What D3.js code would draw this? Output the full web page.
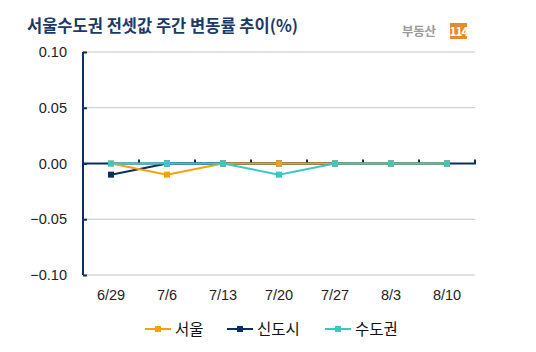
<!DOCTYPE html>
<html><head><meta charset="utf-8">
<script src="https://cdn.jsdelivr.net/npm/d3@7"></script>
<style>
body{margin:0;background:#fff;}
svg{display:block;font-family:"Noto Sans CJK KR","DejaVu Sans",sans-serif;}
</style></head><body>
<svg id="c" width="536" height="352"></svg>
<script>
const categories = ["6/29","7/6","7/13","7/20","7/27","8/3","8/10"];
const seoul = [0, -0.01, 0, 0, 0, 0, 0];
const newTown = [-0.01, 0, 0, 0, 0, 0, 0];
const capital = [0, 0, 0, -0.01, 0, 0, 0];
const yTicks = [0.10, 0.05, 0.00, -0.05, -0.10];
const seriesNames = ["서울","신도시","수도권"];
const colors = ["#F5A20A","#0B2F5E","#3CC6C8"];

const svg = d3.select("#c");
const x = d3.scaleBand().domain(categories).range([83, 475]);
const y = d3.scaleLinear().domain([-0.10, 0.10]).range([275, 52]);

// title
svg.append("text").attr("x", 27).attr("y", 32).attr("font-size", 16.5).attr("font-weight", "bold")
  .attr("fill", "#1B3A66").text("서울수도권 전셋값 주간 변동률 추이(%)");
// logo
svg.append("text").attr("x", 402).attr("y", 36).attr("font-size", 12.5).attr("font-weight","bold")
  .attr("fill", "#9a9a9a").attr("letter-spacing", -0.3).text("부동산");
svg.append("rect").attr("x", 450).attr("y", 23).attr("width", 17).attr("height", 16).attr("fill", "#E8892E");
svg.append("text").attr("x", 458.5).attr("y", 36).attr("font-size", 12).attr("font-weight","bold")
  .attr("text-anchor","middle").attr("fill", "#fff").attr("letter-spacing", -1).text("114");

// grid
svg.append("g").selectAll("line").data(yTicks.filter(d => d !== 0)).join("line")
  .attr("x1", 83).attr("x2", 475).attr("y1", d => y(d)).attr("y2", d => y(d))
  .attr("stroke", "#C4C4C4").attr("stroke-width", 1);

// y axis
const yAxis = d3.axisLeft(y).tickValues(yTicks).tickSize(4).tickFormat(d3.format(".2f"));
const ya = svg.append("g").attr("transform", "translate(83,0)").call(yAxis);
ya.select(".domain").attr("stroke", "#0B2F5E").attr("stroke-width", 2).attr("d", "M0,52V275");
ya.selectAll(".tick line").attr("stroke", "#0B2F5E").attr("stroke-width", 2).attr("x1", 0).attr("x2", 4);
ya.selectAll(".tick text").attr("x", -16).attr("font-size", 14.5).attr("fill", "#222")
  .attr("font-family", "Liberation Sans, Arial, sans-serif");

// zero line (x axis) with boundary ticks
svg.append("line").attr("x1", 83).attr("x2", 476).attr("y1", y(0)).attr("y2", y(0))
  .attr("stroke", "#0B2F5E").attr("stroke-width", 2);
const bounds = categories.slice(1).map(c => x(c)).concat([x.range()[1]]);
svg.append("g").selectAll("line").data(bounds).join("line")
  .attr("x1", d => d).attr("x2", d => d).attr("y1", y(0) - 4).attr("y2", y(0))
  .attr("stroke", "#0B2F5E").attr("stroke-width", 2);

// x labels
svg.append("g").selectAll("text").data(categories).join("text")
  .attr("x", d => x(d) + x.bandwidth() / 2).attr("y", 300).attr("text-anchor", "middle")
  .attr("font-size", 14.5).attr("fill", "#222").attr("font-family", "Liberation Sans, Arial, sans-serif")
  .text(d => d);

// series (draw order: 신도시, 서울, 수도권)
const data = [seoul, newTown, capital];
const order = [1, 0, 2];
const line = d3.line().x((d, i) => x(categories[i]) + x.bandwidth() / 2).y(d => y(d));
order.forEach(k => {
  const s = data[k];
  const g = svg.append("g");
  g.append("path").attr("d", line(s)).attr("fill", "none").attr("stroke", colors[k]).attr("stroke-width", 2);
  g.selectAll("rect").data(s).join("rect")
    .attr("x", (d, i) => x(categories[i]) + x.bandwidth() / 2 - 3)
    .attr("y", d => y(d) - 3).attr("width", 6).attr("height", 6).attr("fill", colors[k]);
});

// legend
const legX = [145, 227, 325];
const lg = svg.append("g");
seriesNames.forEach((n, k) => {
  lg.append("line").attr("x1", legX[k]).attr("x2", legX[k] + 26).attr("y1", 329).attr("y2", 329)
    .attr("stroke", colors[k]).attr("stroke-width", 2);
  lg.append("rect").attr("x", legX[k] + 10).attr("y", 326).attr("width", 6).attr("height", 6).attr("fill", colors[k]);
  lg.append("text").attr("x", legX[k] + 30).attr("y", 335).attr("font-size", 15.5).attr("fill", "#111").text(n);
});
</script></body></html>
